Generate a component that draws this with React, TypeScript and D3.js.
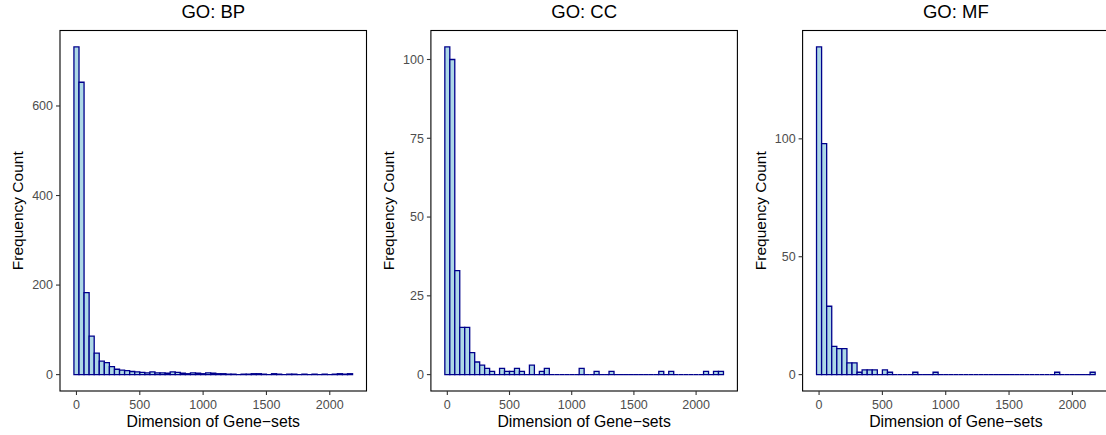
import React from "react";
import * as d3 from "d3";

const binStart = -20;
const binWidth = 40;

const bpCounts = [
  732, 653, 183, 86, 48, 30, 27, 18, 12, 10, 9, 7, 6, 5, 4, 6, 4, 4, 3, 6,
  5, 3, 2, 4, 3, 2, 4, 3, 2, 2, 1, 1, 0, 1, 1, 2, 2, 1, 0, 2,
  1, 0, 1, 1, 0, 1, 0, 1, 0, 1, 0, 1, 2, 1, 2,
];
const ccCounts = [
  104, 100, 33, 15, 15, 7, 4, 3, 2, 1, 0, 2, 1, 1, 2, 1, 0, 3, 0, 1,
  2, 0, 0, 0, 0, 0, 0, 2, 0, 0, 1, 0, 0, 1, 0, 0, 0, 0, 0, 0,
  0, 0, 0, 1, 0, 1, 0, 0, 0, 0, 0, 0, 1, 0, 1, 1,
];
const mfCounts = [
  139, 98, 29, 12, 11, 11, 5, 5, 1, 2, 2, 2, 0, 2, 1, 0, 0, 0, 0, 1,
  0, 0, 0, 1, 0, 0, 0, 0, 0, 0, 0, 0, 0, 0, 0, 0, 0, 0, 0, 0,
  0, 0, 0, 0, 0, 0, 0, 1, 0, 0, 0, 0, 0, 0, 1,
];

const titles = ["GO: BP", "GO: CC", "GO: MF"];
const xTicks = [0, 500, 1000, 1500, 2000];
const bpYTicks = [0, 200, 400, 600];
const ccYTicks = [0, 25, 50, 75, 100];
const mfYTicks = [0, 50, 100];

const xLabel = "Dimension of Gene\u2212sets";
const yLabel = "Frequency Count";

const W = 1106;
const H = 435;
const FONT = "'Liberation Sans', Arial, Helvetica, sans-serif";

const panelLefts = [60, 430.9, 802.6];
const panelWidth = 306.5;
const panelTop = 30.5;
const panelBottom = 391;

function Panel({ left, title, counts, yTicks }) {
  const right = left + panelWidth;
  const end = binStart + counts.length * binWidth;
  const xr = end - binStart;
  const x = d3
    .scaleLinear()
    .domain([binStart - 0.05 * xr, end + 0.05 * xr])
    .range([left, right]);
  const maxC = d3.max(counts);
  const y = d3
    .scaleLinear()
    .domain([-0.05 * maxC, 1.05 * maxC])
    .range([panelBottom, panelTop]);
  const bins = counts.map((c, i) => ({
    x0: binStart + i * binWidth,
    x1: binStart + (i + 1) * binWidth,
    c,
  }));
  const cx = (left + right) / 2;
  const cy = (panelTop + panelBottom) / 2;
  const barPath = (b) => {
    const p = d3.path();
    p.moveTo(x(b.x0), y(0));
    p.lineTo(x(b.x0), y(b.c));
    p.lineTo(x(b.x1), y(b.c));
    p.lineTo(x(b.x1), y(0));
    p.closePath();
    return p.toString();
  };
  return (
    <g>
      <text
        x={cx}
        y={17.5}
        textAnchor="middle"
        fontSize={18.5}
        fontFamily={FONT}
        fill="#000"
      >
        {title}
      </text>
      {bins.map((b, i) => (
        <path
          key={i}
          d={barPath(b)}
          fill="#ADD8E6"
          stroke="#00008B"
          strokeWidth={1.3}
        />
      ))}
      <rect
        x={left}
        y={panelTop}
        width={right - left}
        height={panelBottom - panelTop}
        fill="none"
        stroke="#000"
        strokeWidth={1.1}
      />
      {yTicks.map((t) => (
        <g key={"y" + t}>
          <line
            x1={left - 4}
            x2={left}
            y1={y(t)}
            y2={y(t)}
            stroke="#333"
            strokeWidth={1.1}
          />
          <text
            x={left - 7}
            y={y(t) + 4.4}
            textAnchor="end"
            fontSize={12.5}
            fontFamily={FONT}
            fill="#4D4D4D"
          >
            {t}
          </text>
        </g>
      ))}
      {xTicks.map((t) => (
        <g key={"x" + t}>
          <line
            x1={x(t)}
            x2={x(t)}
            y1={panelBottom}
            y2={panelBottom + 4}
            stroke="#333"
            strokeWidth={1.1}
          />
          <text
            x={x(t)}
            y={408.6}
            textAnchor="middle"
            fontSize={12.5}
            fontFamily={FONT}
            fill="#4D4D4D"
          >
            {t}
          </text>
        </g>
      ))}
      <text
        x={cx}
        y={426.5}
        textAnchor="middle"
        fontSize={15.8}
        fontFamily={FONT}
        fill="#000"
      >
        {xLabel}
      </text>
      <text
        transform={`translate(${left - 37},${cy}) rotate(-90)`}
        textAnchor="middle"
        fontSize={15.5}
        fontFamily={FONT}
        fill="#000"
      >
        {yLabel}
      </text>
    </g>
  );
}

export default function App() {
  const all = [bpCounts, ccCounts, mfCounts];
  const ticks = [bpYTicks, ccYTicks, mfYTicks];
  return (
    <svg
      width={W}
      height={H}
      style={{ position: "absolute", left: 0, top: 0, background: "#fff" }}
    >
      <rect x={0} y={0} width={W} height={H} fill="#fff" />
      {all.map((counts, i) => (
        <Panel
          key={i}
          left={panelLefts[i]}
          title={titles[i]}
          counts={counts}
          yTicks={ticks[i]}
        />
      ))}
    </svg>
  );
}
